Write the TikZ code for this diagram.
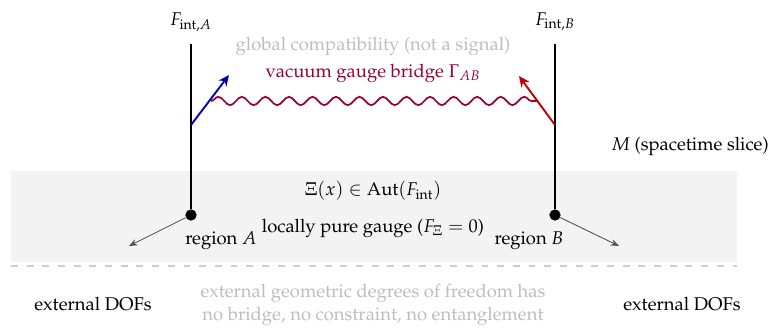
\documentclass[tikz,border=0pt]{standalone}
\usepackage[T1]{fontenc}
\usepackage{mathpazo}
\usetikzlibrary{arrows.meta,decorations.pathmorphing}
\definecolor{bridgeRed}{HTML}{990033}
\definecolor{arrBlue}{HTML}{0000B3}
\definecolor{arrRed}{HTML}{C00000}
\definecolor{softGrey}{HTML}{BDBDBD}
\definecolor{bandFill}{HTML}{F3F3F3}
\definecolor{dashGrey}{HTML}{CDCDCD}
\definecolor{extGrey}{HTML}{505050}

\begin{document}
\begin{tikzpicture}[
  x=0.0204cm, y=-0.0204cm,
  font=\fontsize{10.7pt}{13.5pt}\selectfont,
  fiber/.style={line width=1.4pt, draw=black},
  dot/.style={circle, fill=black, inner sep=0pt, minimum size=0.23cm},
  frame/.style={-{Stealth[length=2.2mm,width=2mm]}, line width=1.1pt},
  ext/.style={-{Stealth[length=1.7mm,width=1.3mm]}, line width=0.5pt, draw=extGrey},
  bridge/.style={draw=bridgeRed, line width=1pt,
                 decorate, decoration={snake, segment length=0.48cm, amplitude=0.085cm}},
  faint/.style={text=softGrey},
  lbl/.style={inner sep=1pt},
]
\useasboundingbox (0,0) rectangle (772,329);

% ---------------- BACKGROUND ----------------
\fill[bandFill] (11,171) rectangle (737,262);
\draw[dashGrey, line width=0.9pt, dash pattern=on 0.14cm off 0.18cm] (11,266) -- (737,266);

% ---------------- NODES (absolute grid) ----------------
\node[lbl] (FA) at (191,22) {$F_{\mathrm{int},A}$};
\node[lbl] (FB) at (555,22) {$F_{\mathrm{int},B}$};
\coordinate (topA) at (191,44);
\coordinate (topB) at (555,44);
\node[dot] (regA) at (191,215) {};
\node[dot] (regB) at (555,215) {};
\coordinate (baseA) at (191,125);
\coordinate (baseB) at (555,125);
\coordinate (tipA) at (229,75);
\coordinate (tipB) at (519,76);
\coordinate (waveL) at (211,101);
\coordinate (waveR) at (538,101);
\coordinate (outA) at (129,246);
\coordinate (outB) at (619,246);

\node[lbl, faint] (compat) at (373,46) {global compatibility (not a signal)};
\node[lbl, text=bridgeRed] (bridgeLbl) at (373,73) {vacuum gauge bridge $\Gamma_{AB}$};
\node[lbl] (slice) at (690,146) {$M$ (spacetime slice)};
\node[lbl] (autLbl) at (373,191) {$\Xi(x)\in\mathrm{Aut}(F_{\mathrm{int}})$};
\node[lbl] (pureLbl) at (373,228) {locally pure gauge ($F_\Xi=0$)};
\node[lbl] (regALbl) at (221,241) {region $A$};
\node[lbl] (regBLbl) at (529,241) {region $B$};
\node[lbl] (extA) at (93,304) {external DOFs};
\node[lbl] (extB) at (682,304) {external DOFs};
\node[lbl, faint, align=center] (noBridge) at (373,305)
  {external geometric degrees of freedom has\\no bridge, no constraint, no entanglement};

% ---------------- EDGES ----------------
\draw[fiber] (topA) -- (regA);
\draw[fiber] (topB) -- (regB);
\draw[bridge] (waveL) -- (waveR);
\draw[frame, draw=arrBlue] (baseA) -- (tipA);
\draw[frame, draw=arrRed] (baseB) -- (tipB);
\draw[ext] (regA) -- (outA);
\draw[ext] (regB) -- (outB);
\end{tikzpicture}
\end{document}
